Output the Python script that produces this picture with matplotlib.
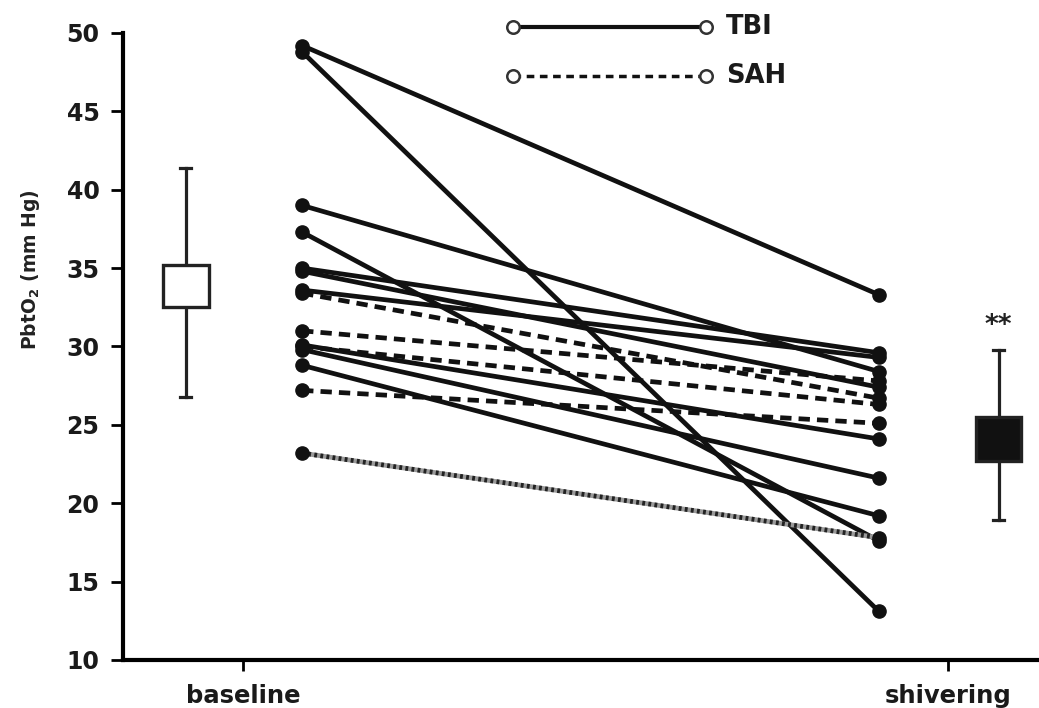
import matplotlib
matplotlib.use("Agg")
import matplotlib.pyplot as plt
from matplotlib.lines import Line2D

plt.rcParams['font.family'] = ['DejaVu Sans']
plt.rcParams['mathtext.fontset'] = 'dejavusans'

# Data
categories = ["baseline", "shivering"]
tbi_baseline = [49.2, 48.8, 39.0, 37.3, 35.0, 34.8, 33.6, 30.1, 29.8, 28.8]
tbi_shivering = [33.3, 13.1, 28.4, 17.6, 29.6, 27.4, 29.3, 24.1, 21.6, 19.2]
sah_baseline = [33.4, 31.0, 30.0, 27.2]
sah_shivering = [26.7, 27.8, 26.3, 25.1]
mixed_baseline = [23.2]
mixed_shivering = [17.8]
summary_mean = [33.9, 24.1]
summary_sem_low = [32.5, 22.7]
summary_sem_high = [35.2, 25.5]
summary_sd_low = [26.8, 18.9]
summary_sd_high = [41.4, 29.8]

# positions (x axis units: baseline tick = 0, shivering tick = 1)
tick_pos = [0.0, 1.0]
pt_pos = [0.084, 0.902]
box_pos = [-0.081, 1.0716]
box_w = 0.065

fig = plt.figure(figsize=(10.39, 7.08), dpi=100)
ax = fig.add_axes([0.1184, 0.0678, 0.8816, 0.8856])
ax.set_xlim(-0.170, 1.129)
ax.set_ylim(10, 50)

lw = 3.4
for b, s in zip(tbi_baseline, tbi_shivering):
    ax.plot(pt_pos, [b, s], color='#111111', lw=lw, marker='o', ms=9.5,
            mfc='#111111', mec='#111111', solid_capstyle='round', zorder=3)
for b, s in zip(sah_baseline, sah_shivering):
    ax.plot(pt_pos, [b, s], color='#111111', lw=lw, ls=(0, (2.4, 1.5)), marker='o', ms=9.5,
            mfc='#111111', mec='#111111', zorder=3)
for b, s in zip(mixed_baseline, mixed_shivering):
    ax.plot(pt_pos, [b, s], color='#9a9a9a', lw=lw, zorder=3)
    ax.plot(pt_pos, [b, s], color='#222222', lw=lw, ls=(0, (0.6, 0.7)), marker='o', ms=9.5,
            mfc='#111111', mec='#111111', zorder=3)

# summary boxes with whiskers
fills = ['white', '#111111']
for i in range(2):
    x = box_pos[i]
    ax.plot([x, x], [summary_sd_low[i], summary_sd_high[i]], color='#222222', lw=2.3, zorder=2)
    for yv in (summary_sd_low[i], summary_sd_high[i]):
        ax.plot([x - 0.008, x + 0.008], [yv, yv], color='#222222', lw=2.3, zorder=2)
    ax.add_patch(plt.Rectangle((x - box_w / 2, summary_sem_low[i]), box_w,
                               summary_sem_high[i] - summary_sem_low[i],
                               facecolor=fills[i], edgecolor='#222222', lw=2.4, zorder=4))
ax.text(box_pos[1], summary_sd_high[1] + 0.7, "**", ha='center', va='bottom',
        fontsize=19, fontweight='bold', color='#222222')

# axes styling
for sp in ['top', 'right']:
    ax.spines[sp].set_visible(False)
ax.spines['left'].set_linewidth(3)
ax.spines['bottom'].set_linewidth(3)
ax.set_yticks(range(10, 51, 5))
ax.set_xticks(tick_pos)
ax.set_xticklabels(categories)
ax.tick_params(axis='y', length=9, width=2, labelsize=17, pad=8)
ax.tick_params(axis='x', length=8, width=2, labelsize=17.5, pad=9)
for lab in ax.get_yticklabels() + ax.get_xticklabels():
    lab.set_fontweight('bold')
    lab.set_color('#1a1a1a')
ax.set_ylabel(r'PbtO$_\mathbf{2}$ (mm Hg)', fontsize=13.5, fontweight='bold',
              color='#222222')
ax.yaxis.set_label_coords(-0.088, 0.622)

# legend drawn in figure coordinates
for yf, ls, name in [(1 - 27 / 708, '-', 'TBI'), (1 - 76 / 708, (0, (2.2, 1.6)), 'SAH')]:
    xs = [513 / 1039, 706 / 1039]
    fig.add_artist(Line2D(xs, [yf, yf], color='#111111', lw=3 if ls == '-' else 2.5, ls=ls,
                          transform=fig.transFigure))
    fig.add_artist(Line2D(xs, [yf, yf], lw=0, marker='o', ms=9, mfc='white',
                          mec='#333333', mew=1.8, transform=fig.transFigure))
    fig.text(726 / 1039, yf, name, fontsize=18.5, fontweight='bold', va='center', ha='left',
             color='#1a1a1a')

fig.savefig("out.png", dpi=100)
